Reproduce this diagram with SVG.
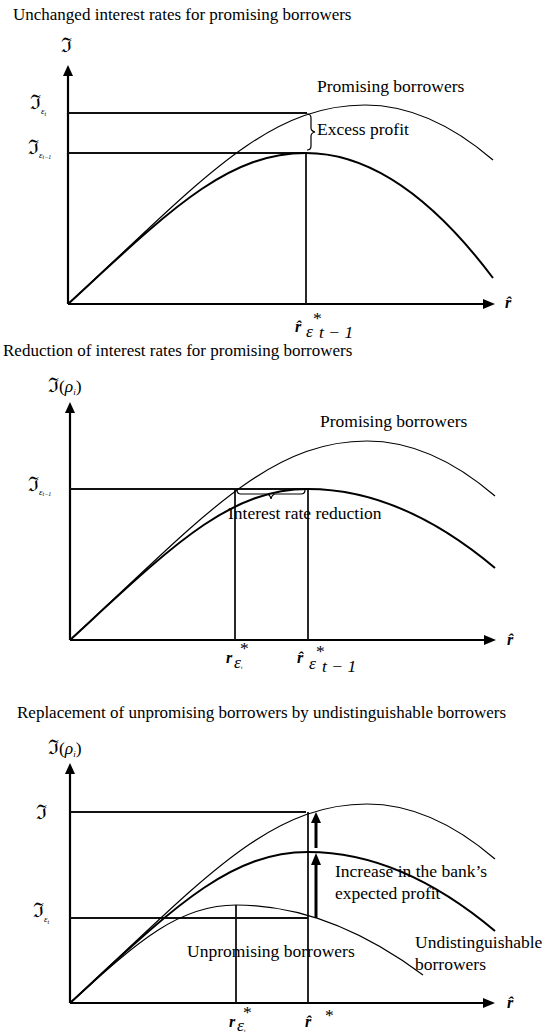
<svg xmlns="http://www.w3.org/2000/svg" xmlns:xlink="http://www.w3.org/1999/xlink" width="548" height="1034" viewBox="0 0 548 1034">
<style>
text{font-family:"Liberation Serif","Times New Roman",serif;font-size:17.5px;fill:#000}
.ttl{font-size:17px}
.fr{font-family:"DejaVu Serif",serif;font-size:20px}
.it{font-style:italic}
.rh{font-style:italic;font-weight:bold;font-size:16px}
.ax{stroke:#000;stroke-width:2.2;fill:none}
.ln{stroke:#111;stroke-width:1.8;fill:none}
.thin{stroke:#000;stroke-width:1.2;fill:none}
.thick{stroke:#000;stroke-width:2;fill:none}
.br{stroke:#000;stroke-width:1.2;fill:none}
.ar{stroke:#000;stroke-width:3;fill:none}
</style>
<defs>
<path id="cThin" d="M0,0 C130,-120 197,-199 297,-199 Q361,-199 425,-144"/>
<path id="cThick" d="M0,0 C100,-92 158,-151 238,-151 Q331,-151 425,-26"/>
<path id="cThick2" d="M0,0 C100,-92 158,-151 238,-151 Q331,-151 425,-72"/>
</defs>

<g id="chart1">
<text class="ttl" x="13" y="20">Unchanged interest rates for promising borrowers</text>
<g id="c1-axes">
<line class="ax" x1="68" y1="304" x2="68" y2="74"/>
<polygon points="63,76 73,76 68,65"/>
<line class="ax" x1="68" y1="304" x2="485" y2="304"/>
<polygon points="483,299 483,309 495,304"/>
</g>
<g id="c1-lines">
<line class="ln" x1="68" y1="113" x2="307" y2="113"/>
<line class="ln" x1="68" y1="153" x2="306" y2="153"/>
<line class="ln" x1="306" y1="153" x2="306" y2="304"/>
</g>
<g id="c1-curves">
<use xlink:href="#cThin" class="thin" transform="translate(68,304)"/>
<use xlink:href="#cThick" class="thick" transform="translate(68,304)"/>
</g>
<path id="c1-brace" class="br" d="M307,114 Q311,114 311,118 L311,128 Q311,131 315,132 Q311,133 311,136 L311,146 Q311,150 307,150"/>
<text x="317" y="92">Promising borrowers</text>
<text x="317" y="135">Excess profit</text>
<text class="fr" x="61" y="52">ℑ</text>
<text x="30" y="109"><tspan class="fr">ℑ</tspan><tspan class="it" font-size="9" dy="5">ε</tspan><tspan class="it" font-size="6" dy="2">t</tspan></text>
<text x="28" y="154"><tspan class="fr">ℑ</tspan><tspan class="it" font-size="9" dy="4">ε</tspan><tspan class="it" font-size="6" dy="1">t−1</tspan></text>
<text class="rh" x="505" y="308">r̂</text>
<text class="rh" x="295" y="332">r̂</text>
<text class="it" font-size="10" x="306" y="337">ε</text>
<text font-size="9" x="313" y="324">*</text>
<text class="it" font-size="6" x="319" y="338">t − 1</text>
</g>

<g id="chart2">
<text class="ttl" x="3" y="356">Reduction of interest rates for promising borrowers</text>
<g id="c2-axes">
<line class="ax" x1="70" y1="640" x2="70" y2="411"/>
<polygon points="65,413 75,413 70,402"/>
<line class="ax" x1="70" y1="640" x2="486" y2="640"/>
<polygon points="484,635 484,645 496,640"/>
</g>
<g id="c2-lines">
<line class="ln" x1="70" y1="489" x2="308" y2="489"/>
<line class="ln" x1="235" y1="489" x2="235" y2="640"/>
<line class="ln" x1="308" y1="489" x2="308" y2="640"/>
</g>
<g id="c2-curves">
<use xlink:href="#cThin" class="thin" transform="translate(70,640)"/>
<use xlink:href="#cThick2" class="thick" transform="translate(70,640)"/>
</g>
<path id="c2-brace" class="br" d="M237,490 Q237,494 241,494 L266,494 Q270,494 271,499 Q272,494 276,494 L301,494 Q305,494 305,490"/>
<text x="320" y="427">Promising borrowers</text>
<text x="228" y="519">Interest rate reduction</text>
<text x="48" y="392"><tspan class="fr">ℑ</tspan><tspan>(</tspan><tspan class="it">ρ</tspan><tspan class="it" font-size="9" dy="3">i</tspan><tspan dy="-3">)</tspan></text>
<text x="28" y="491"><tspan class="fr">ℑ</tspan><tspan class="it" font-size="9" dy="4">ε</tspan><tspan class="it" font-size="6" dy="1">t−1</tspan></text>
<text class="rh" x="507" y="645">r̂</text>
<text class="rh" x="226" y="663">r</text>
<text font-size="9" x="240" y="654">*</text>
<text class="it" font-size="8" x="234" y="668">ε<tspan font-size="5" dy="1">t</tspan></text>
<text class="rh" x="297" y="663">r̂</text>
<text class="it" font-size="10" x="309" y="669">ε</text>
<text font-size="10" x="316" y="657">*</text>
<text class="it" font-size="6" x="322" y="672">t − 1</text>
</g>

<g id="chart3">
<text class="ttl" x="17" y="718">Replacement of unpromising borrowers by undistinguishable borrowers</text>
<g id="c3-axes">
<line class="ax" x1="70" y1="1003" x2="70" y2="772"/>
<polygon points="65,774 75,774 70,763"/>
<line class="ax" x1="70" y1="1003" x2="485" y2="1003"/>
<polygon points="483,998 483,1008 495,1003"/>
</g>
<g id="c3-lines">
<line class="ln" x1="70" y1="812" x2="306" y2="812"/>
<line class="ln" x1="70" y1="918" x2="308" y2="918"/>
<line class="ln" x1="236" y1="905" x2="236" y2="1003"/>
<line class="ln" x1="308" y1="812" x2="308" y2="1003"/>
</g>
<g id="c3-curves">
<use xlink:href="#cThin" class="thin" transform="translate(70,1003)"/>
<use xlink:href="#cThick2" class="thick" transform="translate(70,1003)"/>
<path class="thin" d="M70,1003 C140,939 180,905 236,905 Q329,905 423,975"/>
</g>
<g id="c3-arrows">
<line class="ar" x1="316" y1="848" x2="316" y2="821"/>
<polygon points="311,823 321,823 316,812"/>
<line class="ar" x1="316" y1="918" x2="316" y2="863"/>
<polygon points="311,865 321,865 316,853"/>
</g>
<text x="335" y="877">Increase in the bank’s</text>
<text x="335" y="899">expected profit</text>
<text x="187" y="957">Unpromising borrowers</text>
<text x="415" y="948">Undistinguishable</text>
<text x="415" y="970">borrowers</text>
<text x="48" y="754"><tspan class="fr">ℑ</tspan><tspan>(</tspan><tspan class="it">ρ</tspan><tspan class="it" font-size="9" dy="3">i</tspan><tspan dy="-3">)</tspan></text>
<text class="fr" x="36" y="819">ℑ</text>
<text x="33" y="917"><tspan class="fr">ℑ</tspan><tspan class="it" font-size="9" dy="5">ε</tspan><tspan class="it" font-size="6" dy="2">t</tspan></text>
<text class="rh" x="507" y="1008">r̂</text>
<text class="rh" x="229" y="1027">r</text>
<text font-size="9" x="243" y="1018">*</text>
<text class="it" font-size="8" x="237" y="1031">ε<tspan font-size="5" dy="1">t</tspan></text>
<text class="rh" x="305" y="1027">r̂</text>
<text font-size="10" x="325" y="1021">*</text>
</g>
</svg>
